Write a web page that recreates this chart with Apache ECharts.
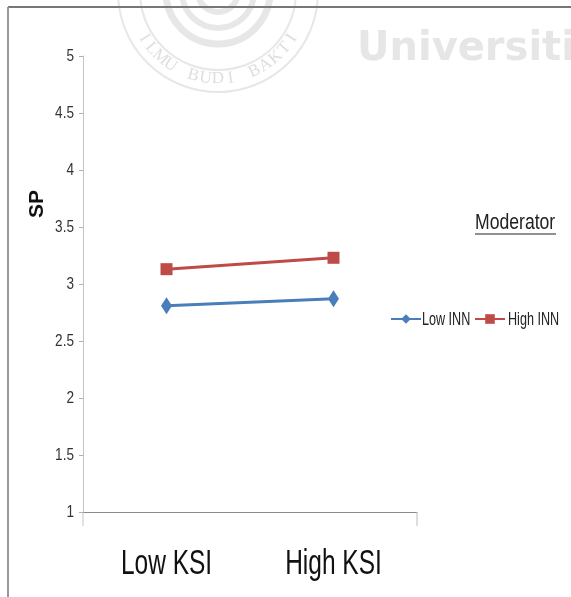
<!DOCTYPE html>
<html>
<head>
<meta charset="utf-8">
<script src="https://cdn.jsdelivr.net/npm/echarts@6/dist/echarts.min.js"></script>
<style>
  html, body { margin: 0; padding: 0; background: #fff; }
  #chart { width: 571px; height: 597px; }
</style>
</head>
<body>
<div id="chart"></div>
<script>
// Interaction plot: SP by KSI level, moderated by INN
const categories = ['Low KSI', 'High KSI'];
const lowINN = [2.81, 2.87];
const highINN = [3.13, 3.23];
const seriesNames = ['Low INN', 'High INN'];
const yTicks = [1, 1.5, 2, 2.5, 3, 3.5, 4, 4.5, 5];

const SANS = '"Liberation Sans", Arial, sans-serif';
const BLUE = '#4a7ebb';
const RED = '#be4b48';

const chart = echarts.init(document.getElementById('chart'));

// Condensed text element anchored at (x, y)
function label(text, x, y, size, color, align, squash) {
  return {
    type: 'text', z: 6, silent: true,
    x: x, y: y, scaleX: squash,
    style: {
      text: text, fill: color,
      font: size + 'px ' + SANS,
      align: align, verticalAlign: 'middle'
    }
  };
}

// Faint seal with its curved motto in the page header
function sealGraphics(cx, cy) {
  const g = [];
  [[100, 2], [78, 2], [52, 7], [36, 6], [20, 6]].forEach(function (ring) {
    g.push({
      type: 'circle', silent: true, z: 0,
      shape: { cx: cx, cy: cy, r: ring[0] },
      style: { fill: 'none', stroke: '#e7e7e7', lineWidth: ring[1] }
    });
  });
  const motto = 'ILMU BUDI BAKTI';
  const start = 148, end = 32, rText = 87;
  for (let i = 0; i < motto.length; i++) {
    const a = (start + (end - start) * i / (motto.length - 1)) * Math.PI / 180;
    g.push({
      type: 'text', silent: true, z: 0,
      x: cx + rText * Math.cos(a), y: cy + rText * Math.sin(a),
      rotation: -(a - Math.PI / 2),
      style: {
        text: motto[i], fill: '#dedede',
        font: '17px "Liberation Serif", serif',
        align: 'center', verticalAlign: 'middle'
      }
    });
  }
  return g;
}

const legendBase = {
  top: 308, itemWidth: 30, itemHeight: 12,
  formatter: function () { return ''; },
  selectedMode: false
};

const option = {
  animation: false,
  backgroundColor: '#ffffff',
  grid: { left: 83, right: 154, top: 56, bottom: 85, containLabel: false },
  legend: [
    Object.assign({ data: [seriesNames[0]], left: 385 }, legendBase),
    Object.assign({ data: [seriesNames[1]], left: 469 }, legendBase)
  ],
  xAxis: {
    type: 'category',
    data: categories,
    boundaryGap: true,
    axisLine: { lineStyle: { color: '#8a8a8a', width: 1 } },
    axisTick: { show: false },
    axisLabel: { show: false }
  },
  yAxis: {
    type: 'value',
    min: 1, max: 5, interval: 0.5,
    axisLine: { show: true, lineStyle: { color: '#c4c4c4', width: 1 } },
    axisTick: { show: true, length: 4, lineStyle: { color: '#b0b0b0' } },
    splitLine: { show: false },
    axisLabel: { show: false }
  },
  series: [
    {
      name: seriesNames[0], type: 'line', data: lowINN,
      symbol: 'diamond', symbolSize: [11, 17],
      lineStyle: { color: BLUE, width: 3 },
      itemStyle: { color: BLUE }
    },
    {
      name: seriesNames[1], type: 'line', data: highINN,
      symbol: 'rect', symbolSize: 12,
      lineStyle: { color: RED, width: 3 },
      itemStyle: { color: RED }
    }
  ]
};

chart.setOption(option);

// Tick labels, titles, frame and header marks, placed from the axes
const yBottom = chart.convertToPixel({ yAxisIndex: 0 }, 1);
const yTop = chart.convertToPixel({ yAxisIndex: 0 }, 5);
const grid = chart.getModel().getComponent('grid').coordinateSystem.getRect();
const xRight = grid.x + grid.width;

const extras = sealGraphics(218, -8).concat([
  {
    type: 'text', silent: true, z: 0, x: 357, y: 30,
    style: { text: 'Universiti', fill: '#e6e6e6', font: 'bold 40px "DejaVu Sans", sans-serif' }
  },
  {
    type: 'line', silent: true, z: 5,
    shape: { x1: 8, y1: 7, x2: 571, y2: 7 },
    style: { stroke: '#777', lineWidth: 2 }
  },
  {
    type: 'line', silent: true, z: 5,
    shape: { x1: 8, y1: 7, x2: 8, y2: 597 },
    style: { stroke: '#999', lineWidth: 2 }
  },
  {
    type: 'line', silent: true, z: 5,
    shape: { x1: grid.x, y1: yBottom, x2: grid.x, y2: yBottom + 14 },
    style: { stroke: '#c4c4c4', lineWidth: 1 }
  },
  {
    type: 'line', silent: true, z: 5,
    shape: { x1: xRight, y1: yBottom, x2: xRight, y2: yBottom + 14 },
    style: { stroke: '#bbb', lineWidth: 1 }
  },
  {
    type: 'text', z: 5,
    x: 37, y: (yTop + yBottom) / 2 - 80, rotation: Math.PI / 2,
    style: {
      text: 'SP', fill: '#111', font: 'bold 21px ' + SANS,
      align: 'center', verticalAlign: 'middle'
    }
  },
  label('Moderator', 475, 223, 22, '#222', 'left', 0.8),
  {
    type: 'line', z: 5,
    shape: { x1: 475, y1: 234, x2: 556, y2: 234 },
    style: { stroke: '#222', lineWidth: 1 }
  },
  label(seriesNames[0], 422, 320, 18, '#222', 'left', 0.7),
  label(seriesNames[1], 508, 320, 18, '#222', 'left', 0.7)
]);

yTicks.forEach(function (v) {
  extras.push(label(String(v), grid.x - 9, chart.convertToPixel({ yAxisIndex: 0 }, v),
    17, '#333', 'right', 0.8));
});
categories.forEach(function (c) {
  extras.push(label(c, chart.convertToPixel({ xAxisIndex: 0 }, c), yBottom + 52,
    35, '#111', 'center', 0.7));
});

chart.setOption({ graphic: extras });
</script>
</body>
</html>
